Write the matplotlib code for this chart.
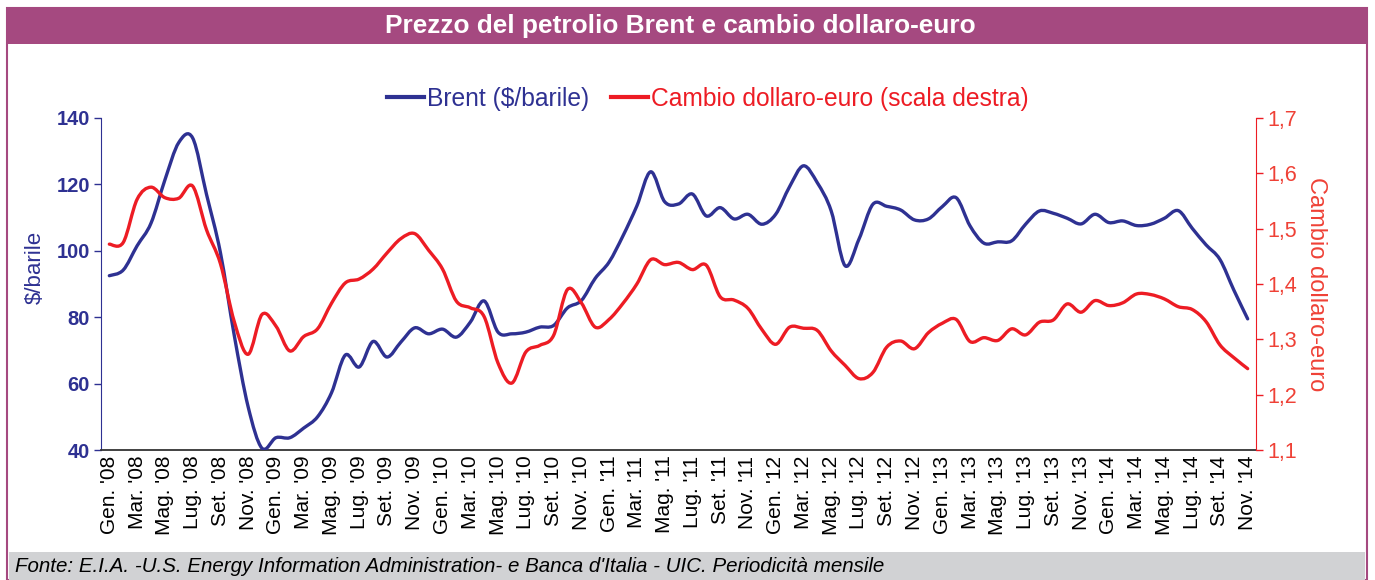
import matplotlib
matplotlib.use("Agg")
import matplotlib.pyplot as plt
from matplotlib.lines import Line2D
from matplotlib.patches import Rectangle, PathPatch
from matplotlib.path import Path
from matplotlib.ticker import FixedLocator, FuncFormatter

plt.rcParams['font.family'] = ['Liberation Sans', 'DejaVu Sans']

# ---- data ----
month_abbr = ["Gen.", "Feb.", "Mar.", "Apr.", "Mag.", "Giu.", "Lug.", "Ago.", "Set.", "Ott.", "Nov.", "Dic."]
years = ["08", "09", "10", "11", "12", "13", "14"]
months = [f"{m} '{y}" for y in years for m in month_abbr][:83]

brent = [92.5, 94.2, 101.5, 108.3, 121.3, 132.6, 134.0, 117.0, 99.5, 74.5, 53.0, 40.5,
         43.7, 43.7, 46.6, 50.0, 57.2, 68.6, 65.0, 72.7, 68.0, 72.5, 76.8, 75.0,
         76.4, 74.0, 78.5, 84.9, 75.5, 75.0, 75.5, 77.0, 77.5, 82.8, 85.0, 91.7,
         96.6, 104.5, 113.5, 123.8, 114.8, 114.1, 117.1, 110.5, 113.0, 109.6, 111.0, 108.0,
         111.0, 119.3, 125.6, 120.5, 112.0, 95.5, 103.5, 114.0, 113.4, 112.3, 109.3, 109.6,
         113.3, 116.0, 107.5, 102.3, 102.7, 103.0, 108.0, 112.0, 111.3, 109.8, 108.1, 111.0,
         108.5, 109.0, 107.6, 108.0, 109.8, 112.1, 106.8, 101.8, 97.4, 88.2, 79.5]

cambio = [1.472, 1.475, 1.553, 1.575, 1.556, 1.555, 1.577, 1.498, 1.437, 1.332, 1.273, 1.345,
          1.324, 1.279, 1.305, 1.319, 1.365, 1.402, 1.409, 1.427, 1.456, 1.482, 1.491, 1.461,
          1.427, 1.369, 1.357, 1.341, 1.257, 1.221, 1.277, 1.289, 1.307, 1.390, 1.366, 1.322,
          1.336, 1.365, 1.400, 1.444, 1.435, 1.439, 1.426, 1.434, 1.377, 1.371, 1.356, 1.318,
          1.291, 1.322, 1.320, 1.316, 1.279, 1.253, 1.229, 1.240, 1.286, 1.297, 1.283, 1.312,
          1.329, 1.336, 1.296, 1.303, 1.298, 1.319, 1.308, 1.331, 1.335, 1.364, 1.349, 1.370,
          1.361, 1.366, 1.382, 1.381, 1.373, 1.359, 1.354, 1.332, 1.290, 1.267, 1.247]

left_ticks = [40, 60, 80, 100, 120, 140]
right_ticks = [1.1, 1.2, 1.3, 1.4, 1.5, 1.6, 1.7]

title = "Prezzo del petrolio Brent e cambio dollaro-euro"
source = "Fonte: E.I.A. -U.S. Energy Information Administration- e Banca d'Italia - UIC. Periodicità mensile"

BLUE = "#2E3192"
RED = "#ED1C24"
RED_AX = "#EF4136"
PURPLE = "#A54980"
GREY = "#D1D2D4"

W, H = 1375, 580
fig = plt.figure(figsize=(W / 100, H / 100), dpi=100)
fig.patch.set_facecolor("white")


def fx(px):
    return px / W


def fy(py):
    return 1 - py / H


def smooth_path(xs, ys):
    """Bezier path through the data points (Excel-like smoothed line)."""
    n = len(xs)
    verts = [(xs[0], ys[0])]
    codes = [Path.MOVETO]
    for i in range(n - 1):
        x0, y0 = xs[max(i - 1, 0)], ys[max(i - 1, 0)]
        x1, y1 = xs[i], ys[i]
        x2, y2 = xs[i + 1], ys[i + 1]
        x3, y3 = xs[min(i + 2, n - 1)], ys[min(i + 2, n - 1)]
        c1 = (x1 + (x2 - x0) / 6, y1 + (y2 - y0) / 6)
        c2 = (x2 - (x3 - x1) / 6, y2 - (y3 - y1) / 6)
        verts += [c1, c2, (x2, y2)]
        codes += [Path.CURVE4] * 3
    return Path(verts, codes)


# frame, title band, footer
fig.add_artist(Rectangle((fx(7), fy(580)), fx(1360), 572 / H, transform=fig.transFigure,
                         facecolor="white", edgecolor=PURPLE, lw=1.5, zorder=0))
fig.add_artist(Rectangle((fx(7), fy(44)), fx(1360), 36 / H, transform=fig.transFigure,
                         facecolor=PURPLE, edgecolor="none", zorder=1))
fig.add_artist(Rectangle((fx(9), fy(580)), fx(1356), 28 / H, transform=fig.transFigure,
                         facecolor=GREY, edgecolor="none", zorder=1))
fig.text(fx(680), fy(26), title, color="white", fontsize=18.9, fontweight="bold",
         ha="center", va="center", zorder=2)
fig.text(fx(15), fy(566), source, color="black", fontsize=14.8, style="italic",
         ha="left", va="center", zorder=2)

ax = fig.add_axes([fx(101), fy(450), fx(1256 - 101), (450 - 118) / H])
ax.set_facecolor("none")
x = list(range(len(months)))
ax.add_patch(PathPatch(smooth_path(x, brent), facecolor="none", edgecolor=BLUE, lw=2.4,
                       joinstyle="round", capstyle="round", zorder=3))
ax.set_xlim(-0.6, len(months) - 0.4)
ax.set_ylim(40, 140)
ax.yaxis.set_major_locator(FixedLocator(left_ticks))
ax.set_yticklabels([str(v) for v in left_ticks], fontweight="bold", color=BLUE, fontsize=14.5)
ax.tick_params(axis="y", colors=BLUE, length=5, width=1, direction="out", pad=3, labelcolor=BLUE)
ax.set_xticks(x[::2])
ax.set_xticklabels(months[::2], rotation=90, fontsize=15, color="black")
ax.tick_params(axis="x", length=0, pad=4)
ax.set_ylabel("$/barile", color=BLUE, fontsize=16)
ax.yaxis.set_label_coords(-0.048, (450 - 267) / 332)
ax.spines["top"].set_visible(False)
ax.spines["right"].set_visible(False)
ax.spines["left"].set_color(BLUE)
ax.spines["bottom"].set_color("#333333")
ax.spines["bottom"].set_linewidth(1.3)

ax2 = ax.twinx()
ax2.add_patch(PathPatch(smooth_path(x, cambio), facecolor="none", edgecolor=RED, lw=2.4,
                        joinstyle="round", capstyle="round", zorder=3))
ax2.set_ylim(1.1, 1.7)
ax2.yaxis.set_major_locator(FixedLocator(right_ticks))
ax2.yaxis.set_major_formatter(FuncFormatter(lambda v, p: f"{v:.1f}".replace(".", ",")))
ax2.tick_params(axis="y", colors=RED, length=5, width=1, direction="out", pad=3,
                labelcolor=RED_AX, labelsize=15.5)
ax2.set_ylabel("Cambio dollaro-euro", color=RED_AX, fontsize=17, rotation=270,
               labelpad=22)
for s in ["top", "left", "bottom"]:
    ax2.spines[s].set_visible(False)
ax2.spines["right"].set_color(RED)

handles = [Line2D([], [], color=BLUE, lw=3), Line2D([], [], color=RED, lw=3)]
leg = fig.legend(handles, ["Brent ($/barile)", "Cambio dollaro-euro (scala destra)"],
                 loc="center", bbox_to_anchor=(fx(708), fy(99)), ncol=2, frameon=False,
                 fontsize=17.7, handlelength=1.5, handletextpad=0.12, columnspacing=0.9)
for t, c in zip(leg.get_texts(), [BLUE, RED]):
    t.set_color(c)

fig.savefig("out.png", dpi=100)
